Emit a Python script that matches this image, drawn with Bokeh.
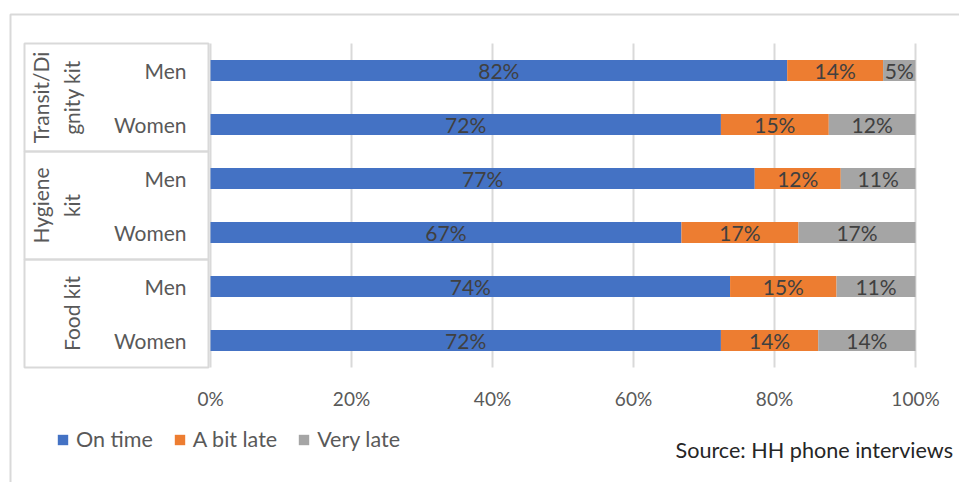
import numpy as np
from bokeh.plotting import figure
from bokeh.models import ColumnDataSource, Range1d, Legend, LegendItem
from bokeh.core.properties import value
from bokeh.embed import file_html
from bokeh.resources import INLINE

# ---- data -------------------------------------------------------------
groups = ["Transit/Dignity kit", "Hygiene kit", "Food kit"]
group_lines = [["Transit/Di", "gnity kit"], ["Hygiene", "kit"], ["Food kit"]]
subgroups = ["Men", "Women"]
series = ["On time", "A bit late", "Very late"]

# share of households (%), rows in the order group x subgroup
on_time = [81.8, 72.4, 77.2, 66.8, 73.7, 72.4]
a_bit_late = [13.6, 15.3, 12.2, 16.6, 15.1, 13.8]
very_late = [4.6, 12.3, 10.6, 16.6, 11.2, 13.8]

tick_values = [0, 20, 40, 60, 80, 100]
tick_labels = ["0%", "20%", "40%", "60%", "80%", "100%"]
source_note = "Source: HH phone interviews"

# ---- styling ----------------------------------------------------------
W, H = 959, 482
colors = ["#4472C4", "#ED7D31", "#A5A5A5"]
GRID = "#D9D9D9"
FONT = value("Lato")

# pixel layout helpers (x in percent, y in row units, row pitch 54px)
X0_PX, PX_PER_PCT = 210.0, 7.05
Y0_PX, ROW_PX = 367.0, 54.0


def dx(px):
    return (px - X0_PX) / PX_PER_PCT


def dy(py):
    return (Y0_PX - py) / ROW_PX


n_rows = len(groups) * len(subgroups)
row_y = [n_rows - i - 0.5 for i in range(n_rows)]
row_sub = [s for g in groups for s in subgroups]

p = figure(width=W, height=H,
           x_range=Range1d(dx(0), dx(W)), y_range=Range1d(dy(H), dy(0)),
           min_border=0, x_axis_location=None, y_axis_location=None,
           toolbar_location=None, output_backend="svg",
           outline_line_color=None, background_fill_color="white",
           border_fill_color="white")
p.grid.visible = False

# outer chart frame
p.line(x=[dx(10), dx(10), dx(W + 10)], y=[dy(H + 10), dy(14), dy(14)],
       line_color=GRID, line_width=2)

# vertical gridlines
p.segment(x0=tick_values, y0=0, x1=tick_values, y1=n_rows,
          line_color=GRID, line_width=2)

# group boxes of the two-level category axis
box_l, box_r = dx(24), dx(208)
group_y = [n_rows - 2 * g - 1 for g in range(len(groups))]
p.rect(x=[(box_l + box_r) / 2] * len(groups), y=group_y,
       width=box_r - box_l, height=len(subgroups),
       fill_color=None, line_color=GRID, line_width=2)

# stacked bars
src = ColumnDataSource(data={
    "y": row_y,
    series[0]: on_time,
    series[1]: a_bit_late,
    series[2]: very_late,
})
bars = p.hbar_stack(series, y="y", height=0.39, color=colors,
                    line_color=None, source=src)

# data labels centred in each segment
vals = np.array([on_time, a_bit_late, very_late])
ends = np.cumsum(vals, axis=0)
mids = ends - vals / 2
for k in range(len(series)):
    p.text(x=list(mids[k]), y=row_y,
           text=[f"{v:.0f}%" for v in vals[k]],
           text_align="center", text_baseline="middle",
           text_font=FONT, text_font_size="21px", text_color="#404040")

# subgroup labels
p.text(x=[dx(186)] * n_rows, y=row_y, text=row_sub,
       text_align="right", text_baseline="middle",
       text_font=FONT, text_font_size="21px", text_color="#595959")

# rotated group labels
gx, gy, gt = [], [], []
for g, lines in enumerate(group_lines):
    for j, ln in enumerate(lines):
        gx.append(dx(71 - 31 * (len(lines) - 1 - j)))
        gy.append(group_y[g])
        gt.append(ln)
p.text(x=gx, y=gy, text=gt, angle=np.pi / 2,
       text_align="center", text_baseline="middle",
       text_font=FONT, text_font_size="21px", text_color="#595959")

# x tick labels
p.text(x=tick_values, y=[dy(398)] * len(tick_values), text=tick_labels,
       text_align="center", text_baseline="middle",
       text_font=FONT, text_font_size="19px", text_color="#595959")

# source note
p.text(x=[dx(675)], y=[dy(449)], text=[source_note],
       text_align="left", text_baseline="middle",
       text_font=FONT, text_font_size="21.6px", text_color="#262626")

legend = Legend(items=[LegendItem(label=s, renderers=[r])
                       for s, r in zip(series, bars)],
                orientation="horizontal", location=(56, 30),
                glyph_width=13, glyph_height=13, label_standoff=7,
                spacing=20, padding=0, margin=0,
                border_line_color=None, background_fill_alpha=0,
                label_text_font="Lato", label_text_font_size="21.5px",
                label_text_color="#595959")
p.add_layout(legend)

open("out.html", "w").write(file_html(p, INLINE))
